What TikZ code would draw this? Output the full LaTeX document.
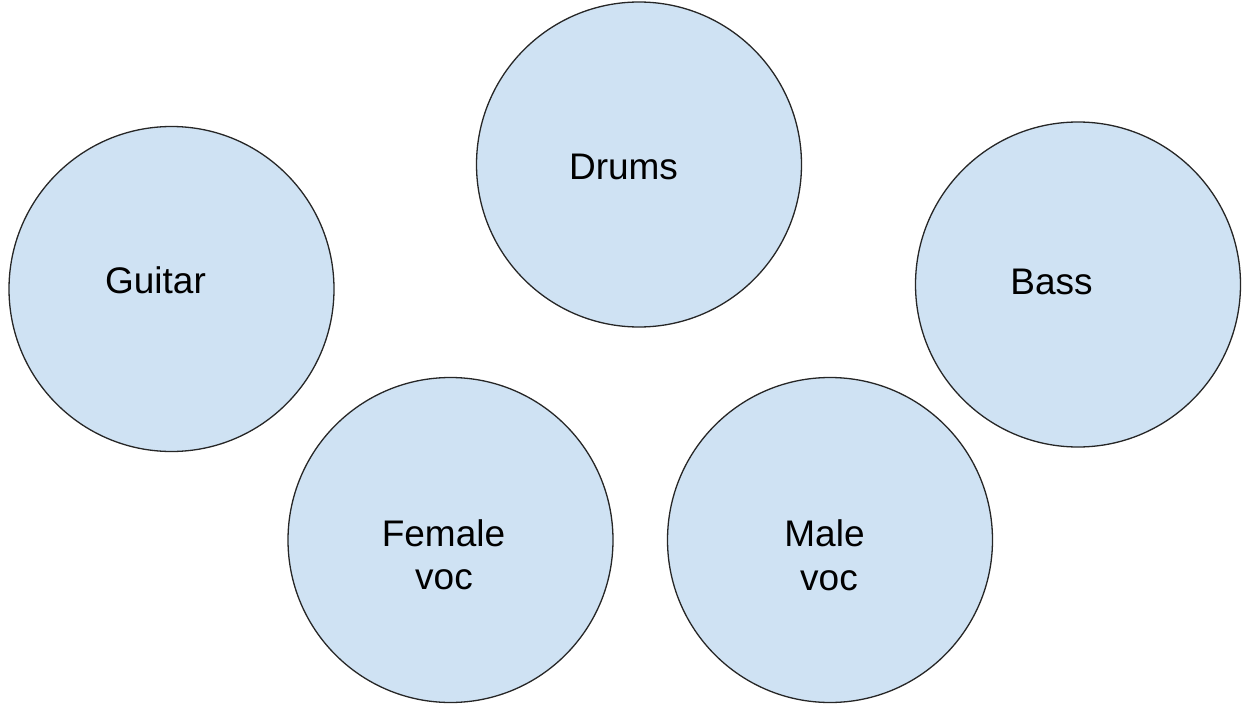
\documentclass[tikz,border=0pt]{standalone}
\usepackage{fontspec}
\setmainfont{Liberation Sans}
\definecolor{cfill}{HTML}{CFE2F3}
\definecolor{cline}{HTML}{262626}
\begin{document}
\begin{tikzpicture}[x=1pt,y=-1pt,
  inst/.style={circle,draw=cline,fill=cfill,line width=1.3pt,minimum size=325pt,inner sep=0pt},
  lbl/.style={anchor=base,inner sep=0pt,font=\fontsize{37}{44}\selectfont}]
\useasboundingbox (0,0) rectangle (1247,706);
\node[inst] (guitar) at (171.5,289) {};
\node[inst] (drums) at (639,164.5) {};
\node[inst] (bass) at (1078,284.5) {};
\node[inst] (female) at (450.5,540) {};
\node[inst] (male) at (830,540) {};
\node[lbl] (tguitar) at (155.5,293.5) {Guitar};
\node[lbl] (tdrums) at (623.5,179) {Drums};
\node[lbl] (tbass) at (1051.5,294) {Bass};
\node[lbl] (tfemale1) at (443.5,546) {Female};
\node[lbl] (tfemale2) at (444,589.5) {voc};
\node[lbl] (tmale1) at (824.5,546.5) {Male};
\node[lbl] (tmale2) at (829,590) {voc};
\end{tikzpicture}
\end{document}
